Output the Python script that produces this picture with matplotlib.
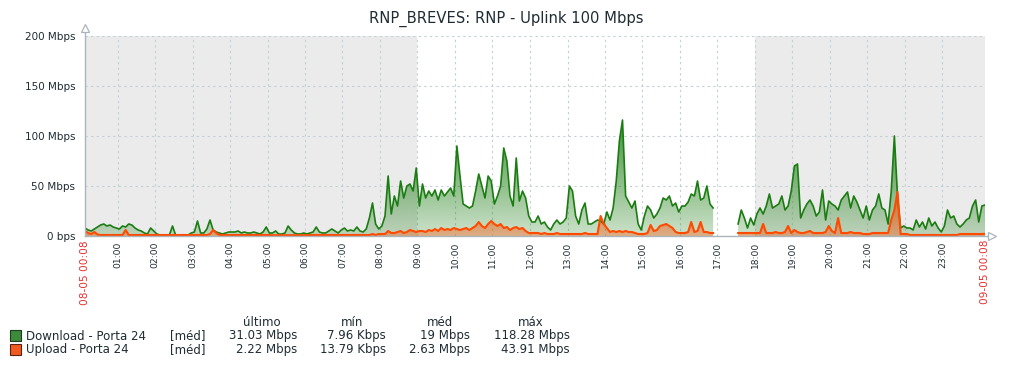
import numpy as np
import matplotlib
matplotlib.use("Agg")
import matplotlib.pyplot as plt
import matplotlib.colors as mcolors
from matplotlib.path import Path

nan = np.nan

# 5-minute samples from 08-05 00:08 to 09-05 00:08, Mbps
download = [
    8, 6, 5, 7, 9, 11, 12, 10, 11, 9, 8, 7,
    10, 9, 12, 11, 8, 6, 5, 3, 2, 8, 5, 2,
    1, 1, 1, 1, 10, 1, 1, 1, 1, 1, 3, 4,
    15, 3, 3, 7, 16, 6, 4, 3, 2, 3, 4, 4,
    4, 5, 3, 4, 3, 3, 4, 3, 2, 4, 9, 3,
    3, 5, 2, 2, 3, 10, 6, 3, 2, 2, 3, 2,
    3, 4, 9, 4, 3, 3, 5, 7, 5, 3, 6, 8,
    5, 6, 5, 9, 5, 4, 7, 18, 33, 12, 7, 10,
    20, 60, 22, 40, 30, 55, 38, 50, 52, 45, 68, 30,
    52, 38, 45, 40, 46, 36, 46, 40, 44, 48, 40, 90,
    60, 32, 30, 28, 30, 45, 62, 50, 38, 60, 55, 32,
    40, 50, 88, 75, 40, 30, 78, 35, 45, 38, 20, 14,
    14, 20, 12, 14, 9, 6, 12, 16, 12, 14, 18, 50,
    45, 20, 12, 26, 33, 12, 12, 14, 16, 15, 12, 24,
    16, 28, 55, 95, 116, 40, 34, 28, 35, 12, 6, 20,
    30, 26, 18, 22, 28, 38, 36, 40, 30, 33, 24, 30,
    30, 34, 42, 40, 55, 36, 38, 50, 32, 28, nan, nan,
    nan, nan, nan, nan, nan, 12, 26, 18, 8, 18, 11, 22,
    28, 22, 30, 42, 28, 30, 32, 40, 26, 30, 45, 70,
    72, 18, 26, 32, 36, 30, 20, 24, 46, 16, 35, 32,
    30, 26, 36, 40, 44, 28, 40, 34, 26, 18, 30, 16,
    26, 30, 42, 28, 26, 12, 45, 100, 40, 8, 10, 8,
    8, 6, 16, 9, 14, 7, 18, 10, 14, 8, 4, 10,
    26, 18, 20, 12, 9, 12, 16, 18, 30, 36, 14, 30,
    31,
]

upload = [
    5, 3, 2, 4, 1.5, 1, 1, 1, 1, 1, 1, 1,
    1, 6, 1, 1, 1, 1, 1, 1, 1, 1, 1, 1,
    1, 1, 1, 1, 1, 1, 1, 1, 1, 1, 1, 1,
    1, 1, 1, 1, 2, 6, 3, 1, 1, 1, 1, 1,
    1, 1, 1, 1, 1, 1, 1, 1, 1, 1, 1, 1,
    0.8, 0.8, 0.8, 0.8, 0.8, 0.8, 0.8, 0.8, 0.8, 0.8, 0.8, 0.8,
    1, 1, 1, 1, 1, 1, 1, 1, 1, 1, 1, 1,
    1, 1, 1, 1, 1, 1, 1, 1, 2, 1, 2, 2,
    2, 5, 3, 3, 4, 5, 3, 4, 6, 5, 4, 5,
    5, 4, 6, 5, 7, 5, 8, 6, 7, 6, 8, 7,
    6, 7, 8, 6, 8, 10, 14, 10, 8, 12, 15, 12,
    10, 12, 8, 9, 6, 8, 9, 7, 8, 5, 3, 3,
    3, 3, 2, 3, 2, 2, 2, 3, 2, 2, 2, 2,
    2, 2, 2, 2, 3, 2, 2, 2, 2, 20, 12, 8,
    4, 5, 4, 5, 4, 5, 4, 4, 3, 2, 2, 2,
    3, 11, 5, 6, 10, 11, 12, 10, 8, 4, 3, 3,
    3, 4, 14, 4, 5, 14, 4, 4, 3, 3, nan, nan,
    nan, nan, nan, nan, nan, 3, 3, 3, 3, 3, 3, 3,
    3, 12, 3, 3, 3, 4, 3, 3, 4, 10, 3, 6,
    4, 3, 3, 4, 5, 3, 3, 3, 3, 4, 10, 5,
    3, 18, 3, 3, 3, 4, 3, 3, 3, 2, 2, 2,
    3, 3, 3, 3, 3, 3, 16, 26, 44, 2, 2, 2,
    1, 1, 1, 1, 1, 1, 1, 1, 1, 1, 1, 1,
    1, 1, 1, 1, 2, 2, 2, 2, 2, 2, 2, 2,
    2.2,
]

hour_labels = ["%02d:00" % h for h in range(1, 24)]
y_ticks = [0, 50, 100, 150, 200]
y_labels = ["0 bps", "50 Mbps", "100 Mbps", "150 Mbps", "200 Mbps"]
title = "RNP_BREVES: RNP - Uplink 100 Mbps"

legend_rows = [
    ("Download - Porta 24", "[méd]", "31.03 Mbps", "7.96 Kbps", "19 Mbps", "118.28 Mbps"),
    ("Upload - Porta 24", "[méd]", "2.22 Mbps", "13.79 Kbps", "2.63 Mbps", "43.91 Mbps"),
]
legend_head = ["último", "mín", "méd", "máx"]

GREEN = "#1A7C11"
ORANGE = "#FF4A00"
GRID = "#c5ced4"
AXIS = "#aab4bb"
TXT = "#1f2c33"

W, H = 1016, 368
fig = plt.figure(figsize=(W / 100, H / 100), dpi=100)
ax = fig.add_axes([85 / W, 132 / H, 900 / W, 200 / H])

t = np.arange(len(download)) * 5 / 60.0
dl = np.array(download, dtype=float)
ul = np.array(upload, dtype=float)

# night shading
ax.axvspan(0, 8 + 52 / 60, color="#ebebeb", zorder=0, lw=0)
ax.axvspan(17 + 52 / 60, 24, color="#ebebeb", zorder=0, lw=0)


def gradient_fill(x, y, color, a_low, a_high, ref, z):
    coll = ax.fill_between(x, 0, y, facecolor="none", edgecolor="none")
    path = Path.make_compound_path(*coll.get_paths())
    n = 400
    yy = np.linspace(200, 0, n)
    img = np.zeros((n, 1, 4))
    img[:, :, :3] = mcolors.to_rgb(color)
    img[:, 0, 3] = a_low + (a_high - a_low) * np.clip(yy / ref, 0, 1)
    im = ax.imshow(img, aspect="auto", extent=[0, 24, 0, 200], origin="upper",
                   zorder=z, interpolation="bilinear")
    im.set_clip_path(path, transform=ax.transData)


gradient_fill(t, dl, GREEN, 0.22, 0.85, 120, 2)
gradient_fill(t, ul, ORANGE, 0.35, 0.6, 40, 3)
ax.plot(t, dl, color=GREEN, lw=1.2, zorder=4)
ax.plot(t, ul, color=ORANGE, lw=1.5, zorder=5)

ax.set_xlim(0, 24)
ax.set_ylim(0, 200)

# grid
hour_pos = [52 / 60 + k for k in range(23)]
for xp in hour_pos + [24]:
    ax.axvline(xp, color=GRID, lw=0.8, ls=(0, (2, 3)), zorder=1)
for yp in y_ticks[1:]:
    ax.axhline(yp, color=GRID, lw=0.8, ls=(0, (2, 3)), zorder=1)

for s in ax.spines.values():
    s.set_visible(False)
ax.plot([0, 0], [0, 206], color=AXIS, lw=1.0, clip_on=False, zorder=6)
ax.plot([0, 24.15], [0, 0], color=AXIS, lw=1.0, clip_on=False, zorder=6)
ax.plot([0], [208], marker="^", ms=6, mfc="white", mec=AXIS, mew=0.9, clip_on=False, zorder=7)
ax.plot([24.2], [0], marker=">", ms=6, mfc="white", mec=AXIS, mew=0.9, clip_on=False, zorder=7)

ax.set_yticks(y_ticks)
ax.set_yticklabels(y_labels, fontsize=7.5, color=TXT)
ax.tick_params(axis="y", length=0, pad=7)
ax.set_xticks(hour_pos)
ax.set_xticklabels(hour_labels, rotation=90, fontsize=6.6, color=TXT)
ax.tick_params(axis="x", length=0, pad=4)

ax.text(0, -4, "08-05 00:08", rotation=90, ha="center", va="top", fontsize=7.6,
        color="#e83030", transform=ax.transData, clip_on=False)
ax.text(24, -4, "09-05 00:08", rotation=90, ha="center", va="top", fontsize=7.6,
        color="#e83030", transform=ax.transData, clip_on=False)

fig.text(506 / W, 1 - 19 / H, title, ha="center", va="center", fontsize=10.6, color=TXT)


def px(x, y):
    return x / W, 1 - y / H


LF = 8.5
for lbl, xc in zip(legend_head, [262, 352, 440, 531]):
    fig.text(*px(xc, 322), lbl, ha="center", va="center", fontsize=LF, color=TXT)

swatch = [("#3d8a3d", "#1e3d1e"), ("#f05a1e", "#5a2010")]
for i, row in enumerate(legend_rows):
    yc = 336 + 14 * i
    fig.patches.append(plt.Rectangle(px(10, yc + 5), 11 / W, 11 / H, transform=fig.transFigure,
                                     facecolor=swatch[i][0], edgecolor=swatch[i][1], lw=0.8))
    fig.text(*px(26, yc), row[0], ha="left", va="center", fontsize=LF, color=TXT)
    fig.text(*px(170, yc), row[1], ha="left", va="center", fontsize=LF, color=TXT)
    for val, xr in zip(row[2:], [297, 386, 470, 570]):
        fig.text(*px(xr, yc), val, ha="right", va="center", fontsize=LF, color=TXT)

fig.savefig("out.png", dpi=100, facecolor="white")
